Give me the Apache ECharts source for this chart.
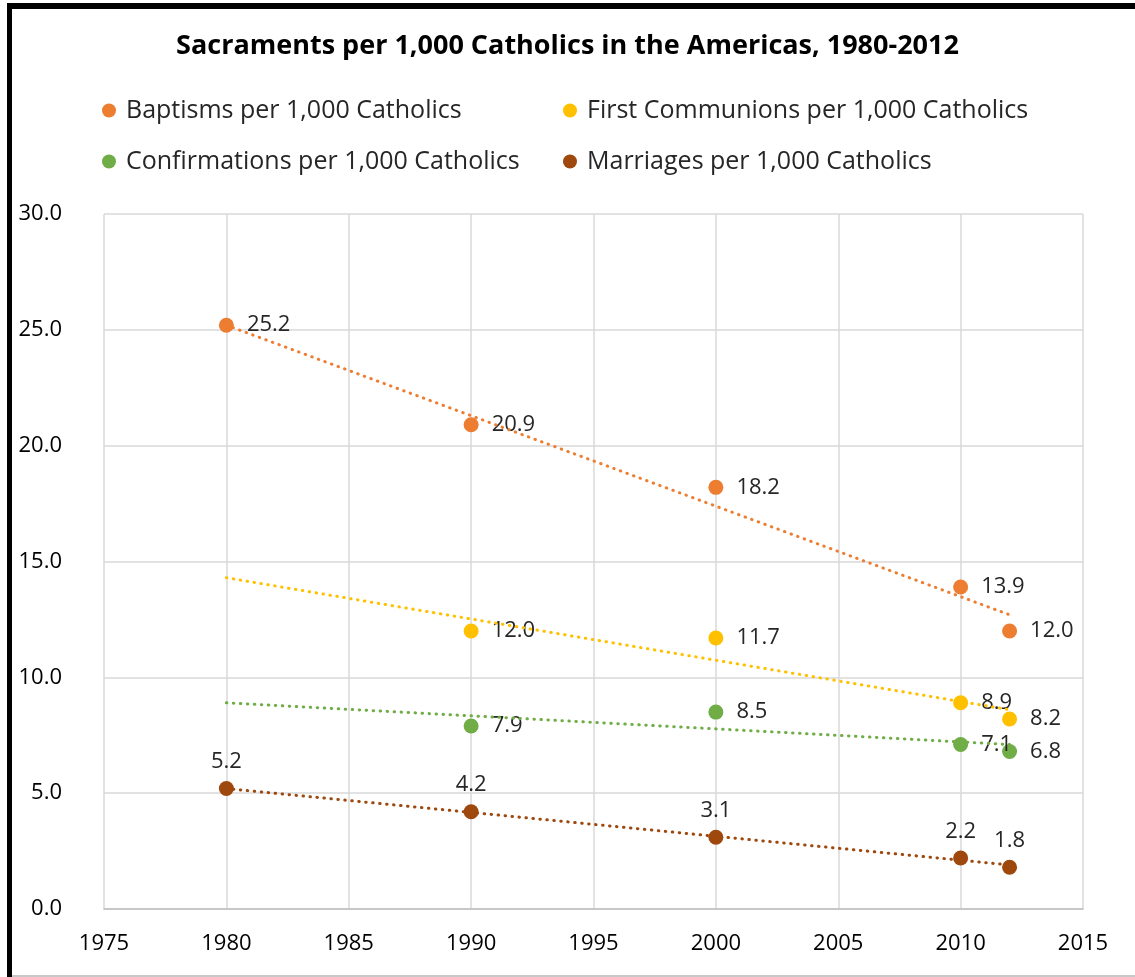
<!DOCTYPE html>
<html>
<head>
<meta charset="utf-8">
<script src="https://cdn.jsdelivr.net/npm/echarts@6/dist/echarts.min.js"></script>
<style>
  html, body { margin: 0; padding: 0; background: #fff; }
  #chart { width: 1135px; height: 977px; }
</style>
</head>
<body>
<div id="chart"></div>
<script>
// data
const years = [1980, 1990, 2000, 2010, 2012]
const baptisms = [25.2, 20.9, 18.2, 13.9, 12.0]
const communions = [null, 12.0, 11.7, 8.9, 8.2]
const confirmations = [null, 7.9, 8.5, 7.1, 6.8]
const marriages = [5.2, 4.2, 3.1, 2.2, 1.8]

// dotted trend lines, end points at 1980 and 2012
const trendYears = [1980, 2012]
const baptismsTrend = [25.2, 12.7]
const communionsTrend = [14.3, 8.6]
const confirmationsTrend = [8.9, 7.1]
const marriagesTrend = [5.2, 1.9]

const names = [
  'Baptisms per 1,000 Catholics',
  'First Communions per 1,000 Catholics',
  'Confirmations per 1,000 Catholics',
  'Marriages per 1,000 Catholics'
]
const colors = ['#ED7D31', '#FFC000', '#70AD47', '#9E480E']

const FONT = 'Open Sans'

const pairs = (xs, ys) => xs.map((x, i) => [x, ys[i]]).filter(p => p[1] != null)

const scatter = (i, ys, labelPos) => ({
  name: names[i],
  type: 'scatter',
  symbol: 'circle',
  symbolSize: 15,
  z: 3,
  itemStyle: { color: colors[i], opacity: 1 },
  label: {
    show: true,
    position: labelPos,
    distance: labelPos === 'top' ? 8 : 13,
    color: '#262626',
    fontFamily: FONT,
    fontSize: 22,
    formatter: p => p.value[1].toFixed(1)
  },
  data: pairs(years, ys)
})

const trend = (i, ys) => ({
  name: names[i] + ' trend',
  type: 'line',
  symbol: 'none',
  silent: true,
  z: 4,
  lineStyle: { color: colors[i], width: 3, type: [0.5, 6.5], cap: 'round' },
  data: pairs(trendYears, ys)
})

const legendText = {
  color: '#262626', fontFamily: FONT, fontSize: 25, lineHeight: 25,
  padding: [0, 0, 0, 5]
}

const chart = echarts.init(document.getElementById('chart'))
chart.setOption({
  backgroundColor: '#fff',
  animation: false,
  title: {
    text: 'Sacraments per 1,000 Catholics in the Americas, 1980-2012',
    left: 'center',
    top: 28,
    textStyle: { color: '#000', fontFamily: FONT, fontSize: 27, fontWeight: 'bold' }
  },
  legend: [
    {
      data: [names[0], names[2]],
      orient: 'vertical',
      left: 97, top: 93,
      itemGap: 26, itemWidth: 14, itemHeight: 14,
      icon: 'circle',
      textStyle: legendText
    },
    {
      data: [names[1], names[3]],
      orient: 'vertical',
      left: 558, top: 93,
      itemGap: 26, itemWidth: 14, itemHeight: 14,
      icon: 'circle',
      textStyle: legendText
    }
  ],
  grid: { left: 104, right: 52, top: 214, bottom: 68 },
  xAxis: {
    type: 'value',
    min: 1975, max: 2015, interval: 5,
    axisLine: { show: true, lineStyle: { color: '#bfbfbf', width: 1.5 } },
    axisTick: { show: false },
    axisLabel: { color: '#000', fontFamily: FONT, fontSize: 22, margin: 24, formatter: v => String(v) },
    splitLine: { show: true, lineStyle: { color: '#d9d9d9', width: 1.5 } }
  },
  yAxis: {
    type: 'value',
    min: 0, max: 30, interval: 5,
    axisLine: { show: false },
    axisTick: { show: false },
    axisLabel: { color: '#000', fontFamily: FONT, fontSize: 22, margin: 42, formatter: v => v.toFixed(1) },
    splitLine: { show: true, lineStyle: { color: '#d9d9d9', width: 1.5 } }
  },
  series: [
    scatter(0, baptisms, 'right'),
    scatter(1, communions, 'right'),
    scatter(2, confirmations, 'right'),
    scatter(3, marriages, 'top'),
    trend(0, baptismsTrend),
    trend(1, communionsTrend),
    trend(2, confirmationsTrend),
    trend(3, marriagesTrend)
  ],
  graphic: [
    // frame round the picture
    { type: 'rect', shape: { x: 7, y: 3, width: 5, height: 974 }, style: { fill: '#000' } },
    { type: 'rect', shape: { x: 7, y: 3, width: 1128, height: 6 }, style: { fill: '#000' } },
    { type: 'rect', shape: { x: 12, y: 975, width: 1123, height: 2 }, style: { fill: '#c8c8c8' } }
  ]
})
</script>
</body>
</html>
